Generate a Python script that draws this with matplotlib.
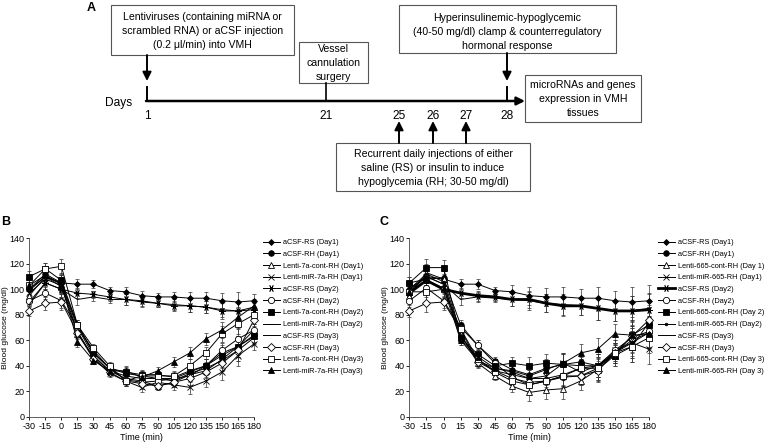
import numpy as np
import matplotlib
matplotlib.use('Agg')
import matplotlib.pyplot as plt
from matplotlib.patches import Rectangle

plt.rcParams['font.family'] = ['Liberation Sans', 'DejaVu Sans']
plt.rcParams['axes.unicode_minus'] = False

W, H = 764, 445

#
# data
#
time = [-30, -15, 0, 15, 30, 45, 60, 75, 90, 105, 120, 135, 150, 165, 180]

# panel B
b_acsf_rs_d1 = [100, 110, 105, 104, 104, 99, 98, 95, 94, 94, 93, 93, 91, 90, 91]
b_acsf_rh_d1 = [100, 112, 105, 72, 50, 38, 34, 32, 30, 30, 35, 40, 50, 55, 64]
b_cont_d1 = [95, 110, 102, 65, 47, 36, 30, 28, 24, 27, 33, 36, 45, 55, 68]
b_mir_d1 = [97, 108, 103, 67, 46, 34, 28, 23, 27, 25, 23, 28, 35, 48, 57]
b_acsf_rs_d2 = [90, 105, 100, 97, 96, 94, 92, 91, 89, 87, 87, 86, 83, 83, 84]
b_acsf_rh_d2 = [91, 97, 91, 70, 52, 38, 29, 27, 28, 30, 32, 40, 52, 61, 68]
b_cont_d2 = [110, 116, 107, 72, 50, 38, 35, 33, 33, 31, 36, 40, 48, 55, 63]
b_mir_d2 = [99, 110, 104, 70, 48, 36, 32, 30, 30, 28, 34, 38, 44, 52, 62]
b_acsf_rs_d3 = [88, 105, 100, 92, 94, 92, 92, 90, 89, 88, 87, 86, 84, 83, 86]
b_acsf_rh_d3 = [83, 89, 90, 66, 45, 35, 28, 26, 24, 27, 30, 35, 42, 52, 76]
b_cont_d3 = [103, 116, 118, 72, 54, 40, 28, 32, 32, 32, 40, 50, 65, 73, 80]
b_mir_d3 = [103, 111, 104, 59, 44, 36, 36, 31, 36, 43, 50, 61, 68, 78, 87]
b_sem = [4, 5, 6, 4, 3, 3, 4, 4, 3, 4, 5, 5, 6, 8, 5]

b_labels = ['aCSF-RS (Day1)', 'aCSF-RH (Day1)', 'Lenti-7a-cont-RH (Day1)',
            'Lenti-miR-7a-RH (Day1)', 'aCSF-RS (Day2)', 'aCSF-RH (Day2)',
            'Lenti-7a-cont-RH (Day2)', 'Lenti-miR-7a-RH (Day2)', 'aCSF-RS (Day3)',
            'aCSF-RH (Day3)', 'Lenti-7a-cont-RH (Day3)', 'Lenti-miR-7a-RH (Day3)']

# panel C
c_acsf_rs_d1 = [100, 110, 108, 104, 104, 99, 98, 95, 94, 94, 93, 93, 91, 90, 91]
c_acsf_rh_d1 = [105, 108, 109, 72, 56, 44, 37, 33, 38, 41, 43, 40, 50, 60, 66]
c_cont_d1 = [95, 113, 108, 65, 42, 32, 24, 19, 21, 22, 28, 37, 48, 55, 74]
c_mir_d1 = [98, 110, 104, 63, 45, 36, 33, 30, 32, 42, 35, 40, 52, 58, 53]
c_acsf_rs_d2 = [97, 107, 100, 97, 95, 94, 92, 92, 89, 87, 87, 85, 83, 83, 84]
c_acsf_rh_d2 = [91, 101, 91, 70, 56, 42, 31, 25, 28, 31, 32, 38, 52, 62, 67]
c_cont_d2 = [105, 117, 117, 62, 49, 40, 42, 40, 42, 41, 40, 40, 48, 64, 72]
c_mir_d2 = [100, 112, 106, 60, 44, 38, 35, 30, 30, 33, 38, 40, 50, 58, 66]
c_acsf_rs_d3 = [99, 110, 104, 92, 94, 93, 92, 91, 89, 88, 87, 85, 83, 83, 85]
c_acsf_rh_d3 = [83, 89, 90, 68, 43, 36, 30, 27, 28, 32, 32, 36, 50, 63, 76]
c_cont_d3 = [98, 98, 100, 69, 45, 35, 28, 25, 28, 32, 38, 38, 50, 55, 62]
c_mir_d3 = [98, 107, 101, 60, 47, 38, 36, 32, 37, 42, 50, 53, 65, 64, 65]
c_sem = [5, 7, 6, 4, 4, 3, 5, 7, 7, 8, 7, 9, 8, 12, 12]

c_labels = ['aCSF-RS (Day1)', 'aCSF-RH (Day1)', 'Lenti-665-cont-RH (Day 1)',
            'Lenti-miR-665-RH (Day1)', 'aCSF-RS (Day2)', 'aCSF-RH (Day2)',
            'Lenti-665-cont-RH (Day 2)', 'Lenti-miR-665-RH (Day2)', 'aCSF-RS (Day3)',
            'aCSF-RH (Day3)', 'Lenti-665-cont-RH (Day 3)', 'Lenti-miR-665-RH (Day 3)']

# marker styles, same order as labels: (marker, filled, size)
styles = [('D', True, 3), ('o', True, 4), ('^', False, 4.5), ('x', False, 4.5),
          ((6, 2, 90), False, 5), ('o', False, 4.5), ('s', True, 4), ('_', True, 4),
          (None, True, 0), ('D', False, 4), ('s', False, 4.5), ('^', True, 4.5)]


def px_box(x0, y0, x1, y1):
    return [x0 / W, 1 - y1 / H, (x1 - x0) / W, (y1 - y0) / H]


fig = plt.figure(figsize=(W / 100, H / 100), dpi=100)

#
# panel A - schematic, drawn in pixel coords
#
ax0 = fig.add_axes([0, 0, 1, 1])
ax0.set_xlim(0, W)
ax0.set_ylim(H, 0)
ax0.axis('off')

fs = 7.6
box_kw = dict(fill=False, edgecolor='#555555', lw=0.8)


def box(x0, y0, x1, y1, txt, ty):
    ax0.add_patch(Rectangle((x0, y0), x1 - x0, y1 - y0, **box_kw))
    ax0.text((x0 + x1) / 2, ty, txt, ha='center', va='center', fontsize=fs,
             linespacing=1.45)


box(111, 5, 294, 55, 'Lentiviruses (containing miRNA or\nscrambled RNA) or aCSF injection\n(0.2 μl/min) into VMH', 31)
box(299, 42, 368, 83, 'Vessel\ncannulation\nsurgery', 63)
box(399, 5, 616, 53, 'Hyperinsulinemic-hypoglycemic\n(40-50 mg/dl) clamp & counterregulatory\nhormonal response', 32)
box(525, 75, 641, 122, 'microRNAs and genes\nexpression in VMH\ntissues', 99)
box(336, 143, 530, 191, 'Recurrent daily injections of either\nsaline (RS) or insulin to induce\nhypoglycemia (RH; 30-50 mg/dl)', 168)

arrow_kw = dict(arrowstyle='-|>', lw=1.4, color='black', mutation_scale=13,
                shrinkA=0, shrinkB=0)
# timeline
ax0.annotate('', xy=(525, 101), xytext=(146, 101),
             arrowprops=dict(arrowstyle='-|>', lw=1.8, color='black',
                             mutation_scale=12, shrinkA=0, shrinkB=0))
ax0.plot([147, 147], [87, 101], color='black', lw=1.4)
ax0.plot([326, 326], [83, 101], color='black', lw=1.2)
ax0.plot([507, 507], [87, 101], color='black', lw=1.4)
# down arrows
ax0.annotate('', xy=(147, 81), xytext=(147, 55), arrowprops=arrow_kw)
ax0.annotate('', xy=(507, 81), xytext=(507, 53), arrowprops=arrow_kw)
# up arrows
for xa in [399, 433, 466]:
    ax0.annotate('', xy=(xa, 121), xytext=(xa, 143), arrowprops=arrow_kw)

ax0.text(119, 103, 'Days', ha='center', va='center', fontsize=8.6)
for xd, d in zip([147, 326, 399, 433, 466, 507], ['1', '21', '25', '26', '27', '28']):
    ax0.text(xd, 116, d, ha='center', va='center', fontsize=8.6)

ax0.text(91, 8, 'A', ha='center', va='center', fontsize=9, fontweight='bold')
ax0.text(6, 222, 'B', ha='center', va='center', fontsize=9, fontweight='bold')
ax0.text(384, 222, 'C', ha='center', va='center', fontsize=9, fontweight='bold')


#
# panels B and C
#
def glucose_panel(rect, series, labels, sem, legend_x, ylab_x, thick_day2=False):
    ax = fig.add_axes(px_box(*rect))
    for i, (vals, lab) in enumerate(zip(series, labels)):
        mk, filled, ms = styles[i]
        lw = 0.7
        if thick_day2 and i == 4:
            lw = 2.0
        if thick_day2 and i == 7:
            mk, ms = 'o', 1.8
        ax.errorbar(time, vals, yerr=sem, fmt='none', ecolor='#333333',
                    elinewidth=0.5, capsize=1.5, capthick=0.5, clip_on=False)
        ax.plot(time, vals, color='black', lw=lw, marker=mk, ms=ms,
                mfc='black' if filled else 'white', mec='black', mew=0.6,
                label=lab, clip_on=False, zorder=3)
    ax.set_xlim(-30, 180)
    ax.set_ylim(0, 140)
    ax.set_xticks(time)
    ax.set_yticks(range(0, 141, 20))
    ax.tick_params(direction='out', length=2, width=0.6, labelsize=6.5, pad=1.5)
    for s in ['top', 'right']:
        ax.spines[s].set_visible(False)
    for s in ['left', 'bottom']:
        ax.spines[s].set_linewidth(0.6)
        ax.spines[s].set_color('#444444')
    ax.set_xlabel('Time (min)', fontsize=6.5, labelpad=2)
    ax.set_ylabel('Blood glucose (mg/dl)', fontsize=6.1)
    ax.yaxis.set_label_coords((ylab_x - rect[0]) / (rect[2] - rect[0]), 0.5)
    ax.legend(loc='upper left', bbox_to_anchor=(legend_x / W, 1 - 239 / H),
              bbox_transform=fig.transFigure, frameon=False, fontsize=5.3,
              handlelength=2.3, handletextpad=0.4, labelspacing=0.62,
              borderpad=0, borderaxespad=0)
    return ax


b_series = [b_acsf_rs_d1, b_acsf_rh_d1, b_cont_d1, b_mir_d1, b_acsf_rs_d2, b_acsf_rh_d2,
            b_cont_d2, b_mir_d2, b_acsf_rs_d3, b_acsf_rh_d3, b_cont_d3, b_mir_d3]
c_series = [c_acsf_rs_d1, c_acsf_rh_d1, c_cont_d1, c_mir_d1, c_acsf_rs_d2, c_acsf_rh_d2,
            c_cont_d2, c_mir_d2, c_acsf_rs_d3, c_acsf_rh_d3, c_cont_d3, c_mir_d3]

glucose_panel((29.3, 238.3, 254, 416.7), b_series, b_labels, b_sem, 263, 9)
glucose_panel((409.3, 238.3, 649, 416.7), c_series, c_labels, c_sem, 658, 389,
              thick_day2=True)

fig.savefig('out.png', dpi=100)
